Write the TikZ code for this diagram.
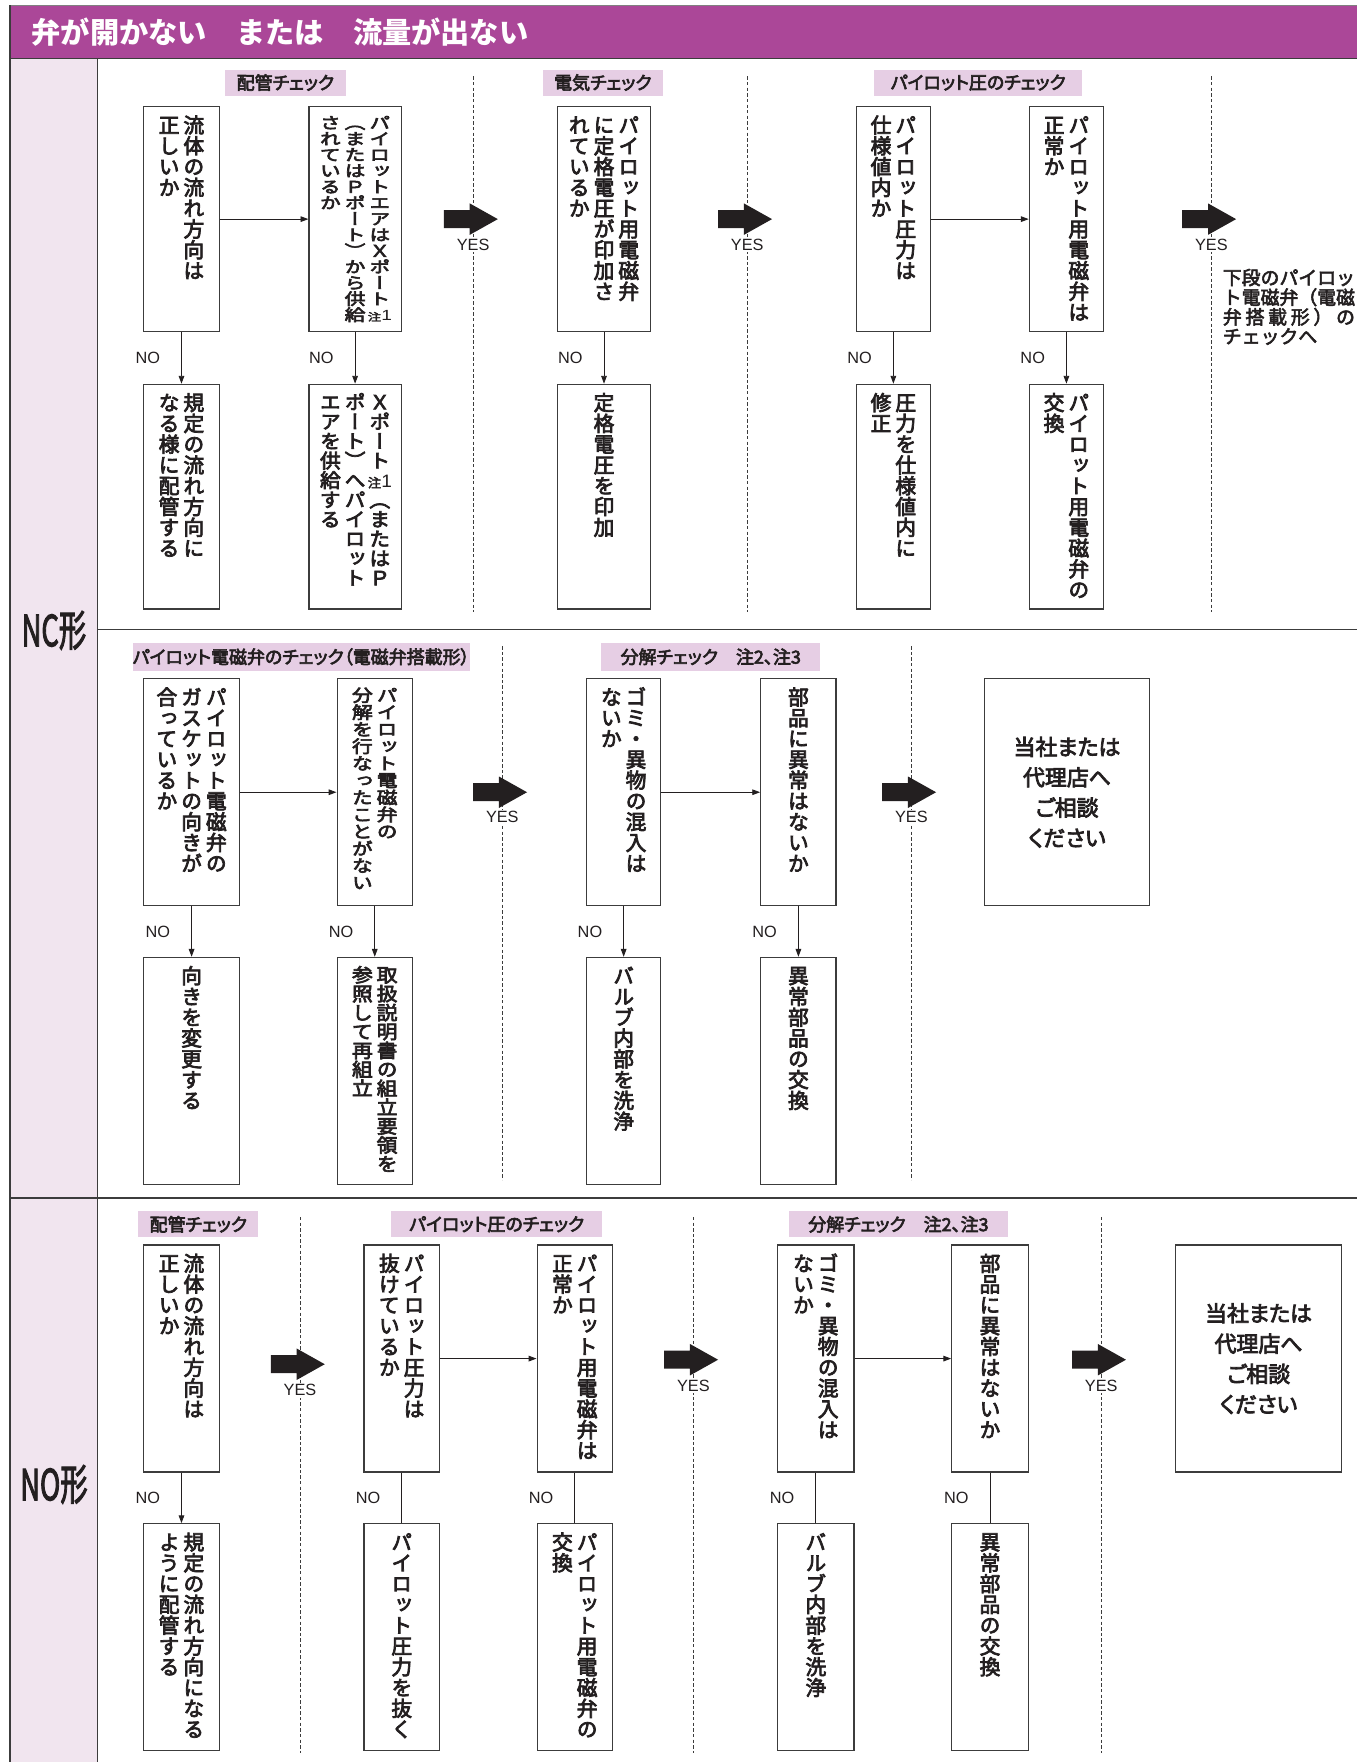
\documentclass[tikz,border=0pt]{standalone}
\usepackage{fontspec}
\usepackage{graphicx}
\usetikzlibrary{arrows.meta}
\newfontfamily\jp{Noto Sans CJK JP}[FakeBold=3]
\newfontfamily\jpv{Noto Sans CJK JP}[RawFeature=+vert, FakeBold=3.5]
\newfontfamily\jpp{Noto Sans CJK JP}[RawFeature=+palt, FakeBold=3.5]
\newfontfamily\jpt{Noto Sans CJK JP}
\newfontfamily\lat{Liberation Sans}
\definecolor{ttl}{RGB}{171,71,152}
\definecolor{labbg}{RGB}{230,206,228}
\definecolor{colbg}{RGB}{241,229,239}
\definecolor{ink}{RGB}{35,31,32}
\definecolor{frame}{RGB}{60,60,60}
% ---- vertical text machinery ----
\def\vfsnum{18.5}
\newdimen\vfs \vfs=\vfsnum pt
\newdimen\vgap \vgap=3.5pt
\newdimen\vpitch
\newbox\vtbox
\def\vcomp{1}
\def\VEND{\relax VEND}
\def\vbH{186pt}
\newcommand\chu{{\jp\fontsize{12}{12}\selectfont 注}{\lat\fontsize{17}{17}\selectfont 1}}
\newcommand\vcell[1]{\hbox to \vfs{\hss\vrule height 0.88\vpitch depth 0.12\vpitch width 0pt\relax\scalebox{1}[\vcomp]{#1}\hss}}
\def\vcolloop#1{\ifx\VEND#1\else\vcell{#1}\expandafter\vcolloop\fi}
\newcommand\vcol[1]{\vtop{\baselineskip=\vpitch\lineskiplimit=-\maxdimen\lineskip=0pt\vcolloop#1\VEND}}
\def\vtextloop#1{\ifx\VEND#1\else\setbox\vtbox=\hbox{\vcol{#1}\ifdim\wd\vtbox>0pt\hskip\vgap\fi\unhbox\vtbox}\expandafter\vtextloop\fi}
\newcommand\vtext[2]{{\jpv\fontsize{\vfsnum}{\vfsnum}\selectfont\def\vcomp{#1}\vpitch=#1\vfs\setbox\vtbox=\hbox{}\vtextloop#2\VEND\box\vtbox}}
\newcommand\vb[2]{\vbox to \vbH{\hbox{\vtext{#1}{#2}}\vss}}
\tikzset{
  vbox/.style={draw=frame, line width=1.1pt, fill=white, inner xsep=0pt, inner ysep=7pt, minimum height=200pt, text=ink},
  hbox/.style={draw=frame, line width=1.1pt, fill=white, align=center, font=\jpp\fontsize{19.5}{27}\selectfont, text=ink},
  lab/.style={fill=labbg, inner sep=0pt, minimum height=23pt, font=\jpp\fontsize{16}{16}\selectfont, text=ink},
  nolab/.style={font=\lat\fontsize{14.5}{14.5}\selectfont, text=ink, inner sep=1pt},
  yeslab/.style={font=\lat\fontsize{14.5}{14.5}\selectfont, text=ink, fill=white, inner sep=1.5pt},
  conn/.style={draw=ink, line width=0.8pt, -{Triangle[length=7pt,width=5pt]}},
  lineonly/.style={draw=ink, line width=0.8pt},
  dline/.style={draw=frame, line width=0.9pt, dash pattern=on 3pt off 2pt},
  fline/.style={draw=frame, line width=1.2pt},
  rtext/.style={anchor=west, inner sep=0pt, font=\jp\fontsize{16.8}{16.8}\selectfont, text=ink},
  bigarr/.pic={\fill[ink] (-26,-8) -- (-3,-8) -- (-3,-14) -- (22,0) -- (-3,14) -- (-3,8) -- (-26,8) -- cycle;}
}
\begin{document}
\begin{tikzpicture}[x=1pt,y=-1pt]
\useasboundingbox (0,0) rectangle (1208,1568);
\fill[white] (0,0) rectangle (1208,1568);
% ---- frame ----
\fill[ttl] (9,5) rectangle (1208,52);
\draw[draw=gray, line width=0.6pt] (9,4.5) -- (1208,4.5);
\fill[colbg] (9,52) rectangle (87,1568);
\draw[fline] (9,4.5) -- (9,1568);
\draw[fline] (87,52) -- (87,1568);
\draw[fline] (9,52) -- (1208,52);
\draw[fline] (87,560) -- (1208,560);
\draw[fline] (9,1066) -- (1208,1066);
\node[anchor=west, text=white, font=\jpt\bfseries\fontsize{26}{26}\selectfont, inner sep=0pt] (title) at (28,29) {弁が開かない　または　流量が出ない};
\node[font=\jp\fontsize{38}{38}\selectfont, text=ink, inner sep=0pt] (nc) at (48,561) {\scalebox{0.64}[1]{NC形}};
\node[font=\jp\fontsize{38}{38}\selectfont, text=ink, inner sep=0pt] (no) at (48,1321) {\scalebox{0.64}[1]{NO形}};
% ---- dashed separators ----
\foreach \d in {421,665,1078} {\draw[dline] (\d,68) -- (\d,545);}
\foreach \d in {447,811} {\draw[dline] (\d,575) -- (\d,1050);}
\foreach \d in {267,617,980} {\draw[dline] (\d,1083) -- (\d,1560);}
% ---- labels ----
\node[lab, minimum width=108pt] (L1) at (254,73.5) {配管チェック};
\node[lab, minimum width=107pt] (L2) at (536.5,73.5) {電気チェック};
\node[lab, minimum width=185pt] (L3) at (870.5,73.5) {パイロット圧のチェック};
\node[lab, minimum width=300pt, minimum height=25pt] (L4) at (268,584.5) {パイロット電磁弁のチェック（電磁弁搭載形）};
\node[lab, minimum width=195pt, minimum height=25pt] (L5) at (632.5,584.5) {分解チェック　注2、注3};
\node[lab, minimum width=107pt] (L6) at (176.5,1089.5) {配管チェック};
\node[lab, minimum width=188pt] (L7) at (442,1089.5) {パイロット圧のチェック};
\node[lab, minimum width=195pt] (L8) at (799.5,1089.5) {分解チェック　注2、注3};
% ================= row 1 =================
\def\vbH{186pt}
\node[vbox, minimum width=67pt] (A1) at (161.5,195) {\vb{1}{{流体の流れ方向は}{正しいか}}};
\node[vbox, minimum width=82pt] (A2) at (316,195) {\vb{0.77}{{パイロットエアはＸポート\chu}{（またはＰポート）から供給}{されているか}}};
\node[vbox, minimum width=67pt] (A1n) at (161.5,442) {\vb{1}{{規定の流れ方向に}{なる様に配管する}}};
\node[vbox, minimum width=82pt] (A2n) at (316,442) {\vb{0.94}{{Ｘポート\chu（またはＰ}{ポート）へパイロット}{エアを供給する}}};
\node[vbox, minimum width=83pt] (B1) at (537.5,195) {\vb{1}{{パイロット用電磁弁}{に定格電圧が印加さ}{れているか}}};
\node[vbox, minimum width=83pt] (B1n) at (537.5,442) {\vb{1}{{定格電圧を印加}}};
\node[vbox, minimum width=66pt] (C1) at (795,195) {\vb{1}{{パイロット圧力は}{仕様値内か}}};
\node[vbox, minimum width=66pt] (C2) at (949,195) {\vb{1}{{パイロット用電磁弁は}{正常か}}};
\node[vbox, minimum width=66pt] (C1n) at (795,442) {\vb{1}{{圧力を仕様値内に}{修正}}};
\node[vbox, minimum width=66pt] (C2n) at (949,442) {\vb{1}{{パイロット用電磁弁の}{交換}}};
\draw[conn] (A1) -- (A2);
\draw[conn] (C1) -- (C2);
\draw[conn] (A1) -- (A1n);
\draw[conn] (A2) -- (A2n);
\draw[conn] (B1) -- (B1n);
\draw[conn] (C1) -- (C1n);
\draw[conn] (C2) -- (C2n);
\node[nolab] (nA1) at (131.5,318.5) {NO};
\node[nolab] (nA2) at (286,318.5) {NO};
\node[nolab] (nB1) at (507.5,318.5) {NO};
\node[nolab] (nC1) at (765,318.5) {NO};
\node[nolab] (nC2) at (919,318.5) {NO};
\foreach \d in {421,665,1078} {\pic at (\d,195) {bigarr}; \node[yeslab] (y1\d) at (\d,218) {YES};}
\node[rtext] (R1) at (1088,247) {下段のパイロッ};
\node[rtext] (R2) at (1088,264.5) {ト電磁弁（電磁};
\node[rtext] (R3) at (1088,282) {\makebox[117.6pt][s]{弁\hfill 搭\hfill 載\hfill 形\hfill ）\hfill の}};
\node[rtext] (R4) at (1088,299.5) {チェックへ};
% ================= row 2 =================
\def\vbH{188pt}
\tikzset{vbox/.append style={minimum height=202pt}}
\node[vbox, minimum width=85pt] (D1) at (170.5,705) {\vb{1}{{パイロット電磁弁の}{ガスケットの向きが}{合っているか}}};
\node[vbox, minimum width=67pt] (D2) at (333.5,705) {\vb{0.82}{{パイロット電磁弁の}{分解を行なったことがない}}};
\node[vbox, minimum width=85pt] (D1n) at (170.5,953) {\vb{1}{{向きを変更する}}};
\node[vbox, minimum width=67pt] (D2n) at (333.5,953) {\vb{0.91}{{取扱説明書の組立要領を}{参照して再組立}}};
\node[vbox, minimum width=66pt] (E1) at (555,705) {\vb{1}{{ゴミ・異物の混入は}{ないか}}};
\node[vbox, minimum width=67pt] (E2) at (710.5,705) {\vb{1}{{部品に異常はないか}}};
\node[vbox, minimum width=66pt] (E1n) at (555,953) {\vb{1}{{バルブ内部を洗浄}}};
\node[vbox, minimum width=67pt] (E2n) at (710.5,953) {\vb{1}{{異常部品の交換}}};
\node[hbox, minimum width=147pt, minimum height=202pt] (F) at (949.5,705) {当社または\\代理店へ\\ご相談\\ください};
\draw[conn] (D1) -- (D2);
\draw[conn] (E1) -- (E2);
\draw[conn] (D1) -- (D1n);
\draw[conn] (D2) -- (D2n);
\draw[conn] (E1) -- (E1n);
\draw[conn] (E2) -- (E2n);
\node[nolab] (nD1) at (140.5,829) {NO};
\node[nolab] (nD2) at (303.5,829) {NO};
\node[nolab] (nE1) at (525,829) {NO};
\node[nolab] (nE2) at (680.5,829) {NO};
\foreach \d in {447,811} {\pic at (\d,705) {bigarr}; \node[yeslab] (y2\d) at (\d,727) {YES};}
% ================= row 3 =================
\node[vbox, minimum width=67pt] (G1) at (161.5,1209) {\vb{1}{{流体の流れ方向は}{正しいか}}};
\node[vbox, minimum width=67pt] (G1n) at (161.5,1457) {\vb{1}{{規定の流れ方向になる}{ように配管する}}};
\node[vbox, minimum width=67pt] (H1) at (357.5,1209) {\vb{1}{{パイロット圧力は}{抜けているか}}};
\node[vbox, minimum width=67pt] (H2) at (511.5,1209) {\vb{1}{{パイロット用電磁弁は}{正常か}}};
\node[vbox, minimum width=67pt] (H1n) at (357.5,1457) {\vb{1}{{パイロット圧力を抜く}}};
\node[vbox, minimum width=67pt] (H2n) at (511.5,1457) {\vb{1}{{パイロット用電磁弁の}{交換}}};
\node[vbox, minimum width=68pt] (J1) at (726,1209) {\vb{1}{{ゴミ・異物の混入は}{ないか}}};
\node[vbox, minimum width=68pt] (J2) at (881,1209) {\vb{1}{{部品に異常はないか}}};
\node[vbox, minimum width=68pt] (J1n) at (726,1457) {\vb{1}{{バルブ内部を洗浄}}};
\node[vbox, minimum width=68pt] (J2n) at (881,1457) {\vb{1}{{異常部品の交換}}};
\node[hbox, minimum width=148pt, minimum height=202pt] (K) at (1120,1209) {当社または\\代理店へ\\ご相談\\ください};
\draw[conn] (G1) -- (G1n);
\draw[conn] (H1) -- (H2);
\draw[conn] (J1) -- (J2);
\draw[lineonly] (H1) -- (H1n);
\draw[lineonly] (H2) -- (H2n);
\draw[lineonly] (J1) -- (J1n);
\draw[lineonly] (J2) -- (J2n);
\node[nolab] (nG1) at (131.5,1333) {NO};
\node[nolab] (nH1) at (327.5,1333) {NO};
\node[nolab] (nH2) at (481.5,1333) {NO};
\node[nolab] (nJ1) at (696,1333) {NO};
\node[nolab] (nJ2) at (851,1333) {NO};
\pic at (267,1214) {bigarr}; \node[yeslab] (y3a) at (267,1237) {YES};
\pic at (617,1210) {bigarr}; \node[yeslab] (y3b) at (617,1233) {YES};
\pic at (980,1210) {bigarr}; \node[yeslab] (y3c) at (980,1233) {YES};
\end{tikzpicture}
\end{document}
